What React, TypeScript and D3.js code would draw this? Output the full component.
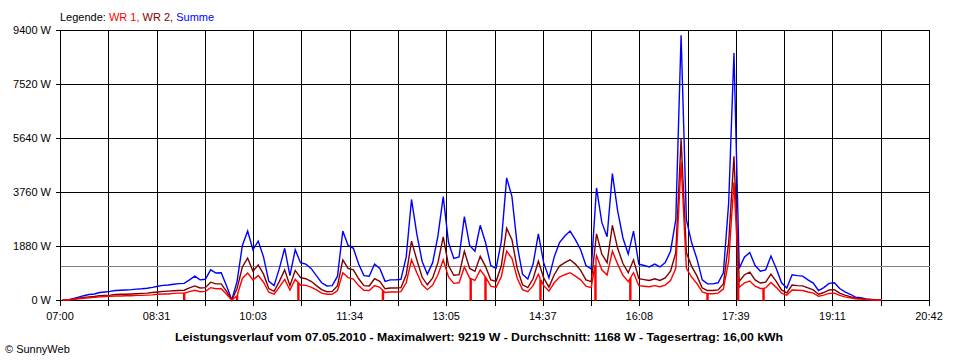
import React from 'react';
import * as d3 from 'd3';

// minutes after 07:00, one value every 5 minutes
const STEP_MIN = 5;
const TOTAL_MIN = 822; // 07:00 .. 20:42
const xTickLabels = ['07:00', '08:31', '10:03', '11:34', '13:05', '14:37', '16:08', '17:39', '19:11', '20:42'];
const yTicks = [0, 1880, 3760, 5640, 7520, 9400];
const AVERAGE = 1168;
const titleText = 'Leistungsverlauf vom 07.05.2010 - Maximalwert: 9219 W - Durchschnitt: 1168 W - Tagesertrag: 16,00 kWh';

const summe = [
  0, 0, 50, 100, 150, 190, 210, 260, 280, 300,
  330, 340, 350, 360, 380, 390, 410, 440, 480, 510,
  520, 550, 570, 580, 700, 830, 700, 720, 1050, 940,
  950, 500, 0, 650, 1900, 2400, 1750, 2050, 1500, 650,
  500, 1100, 1800, 850, 1750, 1300, 1250, 1100, 850, 600,
  490, 500, 830, 2400, 1900, 1800, 1250, 850, 830, 1250,
  1100, 650, 700, 700, 720, 1500, 3500, 2300, 1350, 900,
  1300, 2230, 3600, 2000, 1450, 1500, 2900, 1900, 1700, 2600,
  2000, 1200, 1100, 2050, 4250, 3600, 1900, 900, 730, 1250,
  2300, 1300, 770, 1500, 2000, 2230, 2400, 2100, 1750, 1200,
  1080, 3900, 2700, 2200, 4400, 3100, 2160, 1600, 2400, 1250,
  1200, 1150, 1250, 1150, 1300, 1700, 2800, 9219, 2800, 1990,
  1430, 700, 560, 560, 600, 950, 3380, 8600, 1100, 1500,
  1650, 1200, 1000, 1050, 1530, 1100, 600, 420, 880, 850,
  830, 700, 590, 330, 430, 580, 600, 400, 280, 200,
  100, 80, 40, 20, 0, 0,
];

const wr2 = [
  0, 0, 30, 60, 90, 110, 120, 150, 160, 170,
  190, 200, 200, 210, 220, 230, 240, 260, 280, 300,
  310, 320, 330, 340, 420, 490, 420, 430, 620, 560,
  560, 300, 0, 400, 1150, 1460, 1000, 1220, 900, 400,
  300, 650, 1050, 500, 1030, 780, 740, 650, 500, 360,
  290, 300, 500, 1400, 1100, 1050, 740, 500, 490, 740,
  650, 390, 420, 420, 430, 880, 2050, 1400, 800, 530,
  770, 1300, 2200, 1200, 860, 880, 1700, 1100, 1000, 1520,
  1170, 700, 650, 1200, 2500, 2100, 1100, 530, 430, 740,
  1350, 770, 450, 880, 1180, 1300, 1400, 1250, 1030, 700,
  640, 2300, 1600, 1300, 2600, 1800, 1270, 950, 1400, 740,
  710, 680, 740, 680, 770, 1000, 1650, 5600, 1650, 1170,
  840, 420, 330, 330, 350, 560, 2000, 5000, 650, 880,
  970, 700, 590, 620, 900, 650, 350, 250, 520, 500,
  490, 420, 350, 200, 260, 350, 360, 240, 170, 120,
  60, 50, 25, 10, 0, 0,
];

const wr1 = [
  0, 0, 20, 40, 60, 80, 90, 110, 120, 130,
  140, 140, 150, 150, 160, 160, 170, 180, 200, 210,
  210, 230, 240, 240, 290, 340, 290, 300, 430, 390,
  390, 200, 0, 150, 750, 940, 700, 850, 620, 270,
  200, 450, 720, 350, 720, 520, 510, 450, 350, 240,
  200, 200, 330, 950, 780, 730, 500, 340, 330, 500,
  440, 260, 280, 280, 290, 600, 1400, 950, 540, 360,
  520, 880, 1400, 800, 580, 600, 1150, 760, 680, 1050,
  800, 480, 440, 820, 1700, 1450, 760, 360, 290, 500,
  900, 500, 310, 600, 800, 880, 950, 830, 700, 480,
  430, 1550, 1050, 870, 1700, 1250, 860, 640, 950, 500,
  480, 460, 500, 460, 520, 680, 1100, 4800, 1100, 800,
  570, 280, 220, 220, 240, 380, 1350, 4100, 440, 600,
  660, 480, 400, 420, 610, 440, 240, 170, 350, 340,
  330, 280, 240, 130, 170, 230, 240, 160, 110, 80,
  40, 30, 15, 10, 0, 0,
];

// minutes (after 07:00) at which WR 1 briefly reported 0 W
const wr1DropMinutes = [117, 167, 225, 305, 388, 402, 454, 506, 539, 612, 641, 665];

type Pt = { t: number; v: number };

function buildSeries(values: number[], drops: number[] = []): Pt[] {
  const base: Pt[] = values.map((v, i) => ({ t: i * STEP_MIN + STEP_MIN / 2, v }));
  const at = (t: number) => {
    const f = (t - STEP_MIN / 2) / STEP_MIN;
    const i0 = Math.max(0, Math.min(values.length - 1, Math.floor(f)));
    const i1 = Math.min(values.length - 1, i0 + 1);
    const r = Math.max(0, Math.min(1, f - i0));
    return values[i0] * (1 - r) + values[i1] * r;
  };
  const extra: Pt[] = [];
  drops.forEach((m) => {
    extra.push({ t: m, v: at(m) }, { t: m + 0.01, v: 0 }, { t: m + 0.99, v: 0 }, { t: m + 1, v: at(m + 1) });
  });
  return [...base, ...extra].sort((a, b) => a.t - b.t);
}

const W = 960;
const H = 360;
const X0 = 60;
const X1 = 929;
const Y0 = 300;
const Y1 = 30;
const FONT = '"Liberation Sans", Arial, sans-serif';

export default function App() {
  const x = d3.scaleLinear().domain([0, TOTAL_MIN]).range([X0, X1]);
  const y = d3.scaleLinear().domain([0, 9400]).range([Y0, Y1]);
  const nTicks = (xTickLabels.length - 1) * 2;
  const tickMinutes = d3.range(nTicks + 1).map((i) => (i * TOTAL_MIN) / nTicks);

  const line = d3
    .line<Pt>()
    .x((d) => x(d.t))
    .y((d) => y(d.v))
    .curve(d3.curveLinear);

  const sumPath = line(buildSeries(summe)) || '';
  const wr2Path = line(buildSeries(wr2)) || '';
  const wr1Path = line(buildSeries(wr1, wr1DropMinutes)) || '';

  const px = (v: number) => Math.round(v) + 0.5;

  return (
    <svg
      width={W}
      height={H}
      style={{ position: 'absolute', left: 0, top: 0, background: '#fff' }}
      fontFamily={FONT}
    >
      <rect x={0} y={0} width={W} height={H} fill="#fff" />
      {/* legend */}
      <text x={60} y={21} fontSize={11}>
        <tspan fill="#000">Legende: </tspan>
        <tspan fill="#ff0000">WR 1, </tspan>
        <tspan fill="#800000">WR 2, </tspan>
        <tspan fill="#0000ff">Summe</tspan>
      </text>

      {/* grid */}
      <g shapeRendering="crispEdges" stroke="#000" strokeWidth={1}>
        {tickMinutes.map((m, i) => (
          <line key={'v' + i} x1={px(x(m))} x2={px(x(m))} y1={px(y(9400))} y2={px(y(0)) + 5} />
        ))}
        {yTicks.map((v) => (
          <line key={'h' + v} x1={px(x(0)) - 5} x2={px(x(TOTAL_MIN))} y1={px(y(v))} y2={px(y(v))} />
        ))}
      </g>
      <line
        x1={px(x(0))}
        x2={px(x(TOTAL_MIN))}
        y1={px(y(AVERAGE))}
        y2={px(y(AVERAGE))}
        stroke="#808080"
        strokeWidth={1}
        shapeRendering="crispEdges"
      />

      {/* series */}
      <path d={sumPath} fill="none" stroke="#0000ff" strokeWidth={1.4} />
      <path d={wr2Path} fill="none" stroke="#800000" strokeWidth={1.4} />
      <path d={wr1Path} fill="none" stroke="#ff0000" strokeWidth={1.4} />

      {/* y labels */}
      {yTicks.map((v) => (
        <text key={'yl' + v} x={51} y={y(v) + 4} fontSize={11} textAnchor="end" fill="#000">
          {`${v} W`}
        </text>
      ))}
      {/* x labels */}
      {xTickLabels.map((lab, i) => (
        <text key={'xl' + i} x={x(tickMinutes[i * 2])} y={320} fontSize={11} textAnchor="middle" fill="#000">
          {lab}
        </text>
      ))}

      <text x={479} y={341} fontSize={11} fontWeight="bold" textAnchor="middle" fill="#000" textLength={608} lengthAdjust="spacingAndGlyphs">
        {titleText}
      </text>
      <text x={5} y={353} fontSize={11} fill="#000">
        © SunnyWeb
      </text>
    </svg>
  );
}
